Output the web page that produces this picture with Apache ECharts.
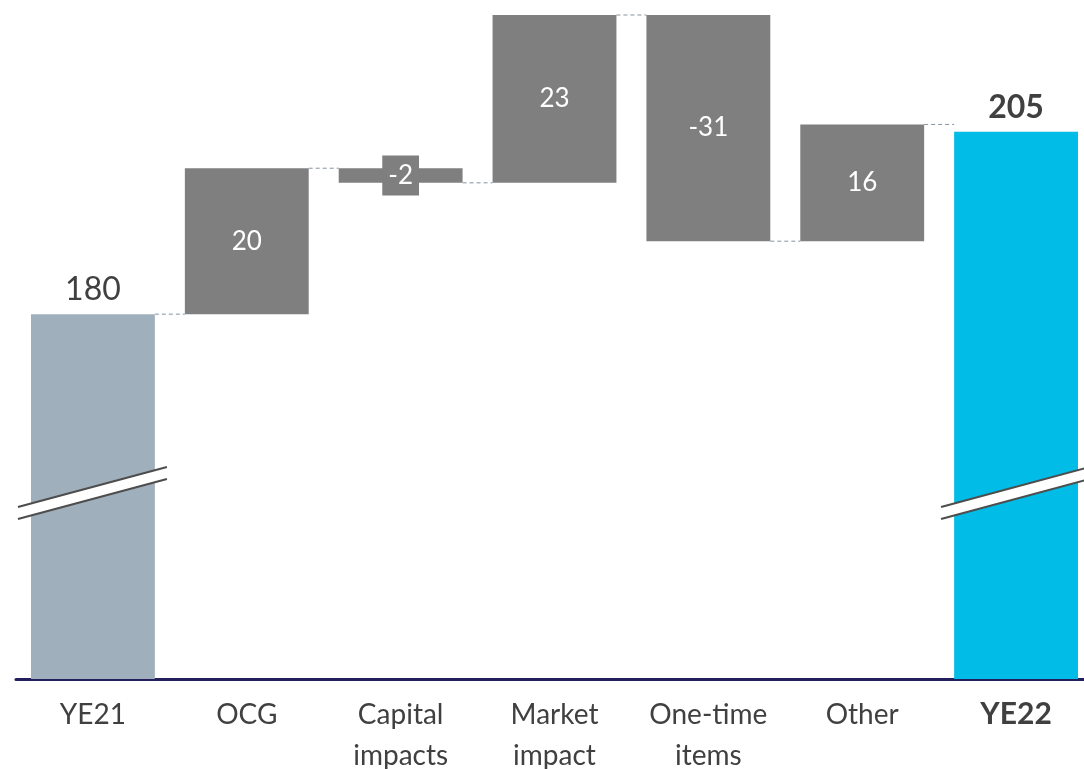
<!DOCTYPE html>
<html>
<head>
<meta charset="utf-8">
<script src="https://cdn.jsdelivr.net/npm/echarts@6/dist/echarts.min.js"></script>
<style>
  html, body { margin: 0; padding: 0; background: #fff; }
  #chart { width: 1084px; height: 769px; }
</style>
</head>
<body>
<div id="chart"></div>
<script>
// Bridge from year-end 2021 to year-end 2022
const categories = ['YE21', 'OCG', 'Capital\nimpacts', 'Market\nimpact', 'One-time\nitems', 'Other', 'YE22'];
const startTotal = 180;
const deltas = [20, -2, 23, -31, 16];
const endTotal = 205;
const breakLevel = 155.5; // where the broken-axis marks sit on the total bars

const FONT = 'Lato, "Open Sans", sans-serif';
const GRAY = '#7f7f7f';
const TEXT = '#404040';
const GAP = 0.195;

// Build floating-bar pieces from the running total
const baseData = [0];
const deltaData = [{ value: 0, label: { show: false } }];
const totalData = [{ value: startTotal, itemStyle: { color: '#9fafbc' },
  label: { show: true, position: 'top', distance: 8, fontSize: 32, color: TEXT, fontFamily: FONT } }];
const connectorData = [[0, startTotal]];
let running = startTotal;
deltas.forEach((d, k) => {
  const lo = d >= 0 ? running : running + d;
  const lbl = { show: true, position: 'inside', color: '#fff', fontSize: 26, fontFamily: FONT,
    formatter: String(d) };
  if (Math.abs(d) < 4) {
    Object.assign(lbl, { backgroundColor: GRAY, padding: [7, 6] });
  }
  baseData.push(lo);
  deltaData.push({ value: Math.abs(d), label: lbl });
  totalData.push({ value: 0, label: { show: false } });
  running += d;
  connectorData.push([k + 1, running]);
});
baseData.push(0);
deltaData.push({ value: 0, label: { show: false } });
totalData.push({ value: endTotal, itemStyle: { color: '#00bce6' },
  label: { show: true, position: 'top', distance: 8, fontSize: 32, fontWeight: 'bold', color: TEXT, fontFamily: FONT } });

const chart = echarts.init(document.getElementById('chart'), null, { renderer: 'canvas' });

chart.setOption({
  animation: false,
  backgroundColor: '#fff',
  grid: { left: 16, right: -9, top: 15, bottom: 90, containLabel: false, outerBoundsMode: 'none' },
  xAxis: {
    type: 'category',
    data: categories,
    axisLine: { lineStyle: { color: '#231e5c', width: 3 } },
    axisTick: { show: false },
    axisLabel: {
      margin: 15,
      color: TEXT,
      fontSize: 28,
      lineHeight: 41,
      fontFamily: FONT,
      interval: 0,
      formatter: (v, i) => i === categories.length - 1 ? '{b|' + v + '}' : v,
      rich: { b: { fontWeight: 'bold', fontSize: 30, color: TEXT, fontFamily: FONT } }
    }
  },
  yAxis: { type: 'value', min: 130, max: 221, show: false, splitLine: { show: false } },
  series: [
    {
      name: 'base', type: 'bar', stack: 'w', barCategoryGap: (GAP * 100) + '%',
      itemStyle: { color: 'transparent' }, data: baseData, silent: true
    },
    {
      name: 'delta', type: 'bar', stack: 'w',
      itemStyle: { color: GRAY }, data: deltaData
    },
    {
      name: 'total', type: 'bar', stack: 'w',
      data: totalData
    },
    {
      // dashed links between consecutive bars
      name: 'connector', type: 'custom', z: 1,
      data: connectorData,
      renderItem(params, api) {
        const i = api.value(0), lvl = api.value(1);
        const p1 = api.coord([i, lvl]);
        const p2 = api.coord([i + 1, lvl]);
        const half = api.size([1, 0])[0] * (1 - GAP) / 2;
        return {
          type: 'line',
          shape: { x1: p1[0] + half, y1: p1[1], x2: p2[0] - half, y2: p2[1] },
          style: { stroke: '#8593a0', lineWidth: 1, lineDash: [4, 3] }
        };
      }
    },
    {
      // axis-break marks across the total bars
      name: 'break', type: 'custom', z: 10,
      data: [[0, breakLevel], [categories.length - 1, breakLevel]],
      renderItem(params, api) {
        const c = api.coord([api.value(0), api.value(1)]);
        const xl = c[0] - 75, xr = c[0] + 74, rise = 20, h = 6;
        return {
          type: 'group',
          children: [
            { type: 'polygon',
              shape: { points: [[xl, c[1] + rise - h], [xr, c[1] - rise - h], [xr, c[1] - rise + h], [xl, c[1] + rise + h]] },
              style: { fill: '#fff' } },
            { type: 'line', shape: { x1: xl, y1: c[1] + rise - h, x2: xr, y2: c[1] - rise - h },
              style: { stroke: '#4d4d4d', lineWidth: 2 } },
            { type: 'line', shape: { x1: xl, y1: c[1] + rise + h, x2: xr, y2: c[1] - rise + h },
              style: { stroke: '#4d4d4d', lineWidth: 2 } }
          ]
        };
      }
    }
  ]
});
</script>
</body>
</html>
